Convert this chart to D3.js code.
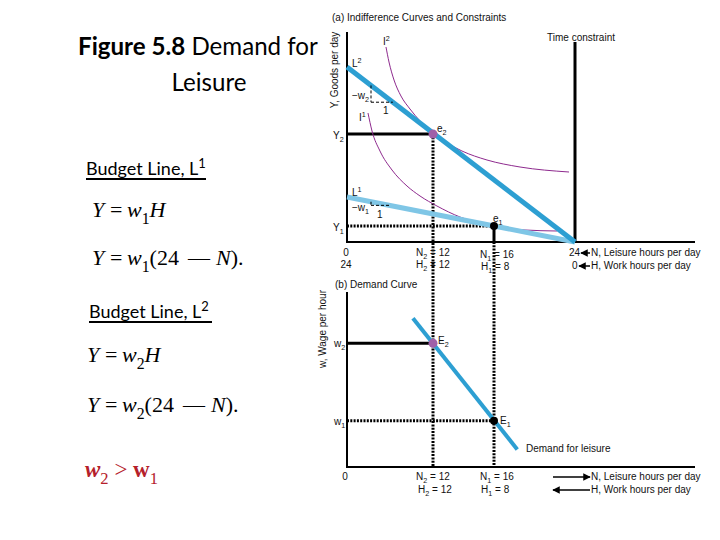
<!DOCTYPE html>
<html><head><meta charset="utf-8">
<script src="https://cdn.jsdelivr.net/npm/d3@7"></script>
<style>body{margin:0;background:#fff}svg{display:block}</style>
</head><body>
<script>
// ---------- data ----------
const leisureTicks = [0, 12, 16, 24];          // N, leisure hours
const workTicks = [24, 12, 8, 0];              // H, work hours
const budgetL2 = [[0, 175], [24, 0]];          // Y = w2(24-N)
const budgetL1 = [[0, 45], [24, 0]];           // Y = w1(24-N)
const timeConstraint = [[24, 0], [24, 200]];
const indiffI2 = [[5.44,195],[5.86,180],[6.56,162],[7.53,146],[8.79,133],[10.19,121],[12,108],[12.92,99],[13.9,91],[15.54,82],[18.57,75],[23.41,70]];
const indiffI1 = [[2.93,129],[3.49,111],[4.6,91],[6.28,72],[8.37,56],[10.19,46],[12.26,36],[13.77,25],[16,16],[19.06,12],[22.22,11]];
const goodsY = [108, 16];                       // Y2, Y1
const eqLeisure = [12, 16];                     // N2, N1
const wages = [9.9, 3.7];                       // w2, w1
const demandLeisure = [[9.2, 11.9], [12, 9.9], [16, 3.7], [18.3, 1.4]];
const slopeTriangleL2 = [3.35, 6.4];
const slopeTriangleL1 = [3.35, 5.9];

// ---------- setup ----------
const svg = d3.select('body').append('svg').attr('width', 720).attr('height', 540);
const SANS = '"Liberation Sans", Arial, sans-serif';
const SERIF = '"Liberation Serif", "Times New Roman", serif';
const x = d3.scaleLinear().domain(leisureTicks).range([347, 433, 494, 575]);
const yTop = d3.scaleLinear().domain([0, 210]).range([242, 32]);
const yBot = d3.scaleLinear().domain([0, 14]).range([467, 292]);
const BLUE = '#2d9fd2', LIGHTBLUE = '#7fc6e6', PURPLE = '#8e2a8e', DOT = '#a060a8';
const FS = 10;

const defs = svg.append('defs');
defs.append('marker').attr('id', 'ah').attr('viewBox', '0 0 10 10').attr('refX', 9).attr('refY', 5)
  .attr('markerWidth', 5).attr('markerHeight', 5).attr('orient', 'auto-start-reverse')
  .append('path').attr('d', 'M0,0L10,5L0,10z').attr('fill', '#000');

// rich text helper
function rich(x0, y0, parts, o = {}) {
  const size = o.size || FS;
  const t = svg.append('text').attr('x', x0).attr('y', y0)
    .attr('font-family', o.family || SANS).attr('font-size', size)
    .attr('fill', o.fill || '#111');
  if (o.anchor) t.attr('text-anchor', o.anchor);
  if (o.transform) t.attr('transform', o.transform);
  if (o.weight) t.attr('font-weight', o.weight);
  let cur = 0;
  parts.forEach(p => {
    if (typeof p === 'string') p = { t: p };
    let shift = 0, fs = size;
    if (p.sub) { shift = size * 0.3; fs = size * 0.72; }
    if (p.sup) { shift = -size * 0.4; fs = size * 0.72; }
    const s = t.append('tspan').text(p.t).attr('font-size', fs);
    if (shift - cur !== 0) s.attr('dy', shift - cur);
    cur = shift;
    if (p.x != null) s.attr('x', p.x);
    if (p.italic) s.attr('font-style', 'italic');
    if (p.bold) s.attr('font-weight', 'bold');
    if (p.family) s.attr('font-family', p.family);
  });
  return t;
}

// ---------- panel (a) ----------
const line = d3.line().x(d => x(d[0])).y(d => yTop(d[1]));
svg.append('line').attr('x1', x(0)).attr('x2', x(0)).attr('y1', yTop(210)).attr('y2', yTop(0)).attr('stroke', '#000').attr('stroke-width', 2);
svg.append('line').attr('x1', x(0) - 1).attr('x2', 695).attr('y1', yTop(0)).attr('y2', yTop(0)).attr('stroke', '#000').attr('stroke-width', 2);
svg.append('path').attr('d', line(timeConstraint)).attr('stroke', '#000').attr('stroke-width', 3).attr('fill', 'none');

const dotted = { stroke: '#000', 'stroke-width': 3, 'stroke-dasharray': '2,1.3' };
function seg(x1, y1, x2, y2, st) {
  const l = svg.append('line').attr('x1', x1).attr('y1', y1).attr('x2', x2).attr('y2', y2);
  Object.entries(st).forEach(([k, v]) => l.attr(k, v));
  return l;
}
seg(x(0), yTop(goodsY[0]), x(eqLeisure[0]), yTop(goodsY[0]), { stroke: '#000', 'stroke-width': 3 });
seg(x(eqLeisure[0]), yTop(goodsY[0]), x(eqLeisure[0]), yBot(0), dotted);
seg(x(0), yTop(goodsY[1]), x(eqLeisure[1]), yTop(goodsY[1]), dotted);
seg(x(eqLeisure[1]), yTop(goodsY[1]), x(eqLeisure[1]), yTop(0), { stroke: '#000', 'stroke-width': 3 });
seg(x(eqLeisure[1]), yTop(0), x(eqLeisure[1]), yBot(0), dotted);

const curve = d3.line().x(d => x(d[0])).y(d => yTop(d[1])).curve(d3.curveMonotoneX);
svg.append('path').attr('d', curve(indiffI2)).attr('fill', 'none').attr('stroke', PURPLE).attr('stroke-width', 1);
svg.append('path').attr('d', curve(indiffI1)).attr('fill', 'none').attr('stroke', PURPLE).attr('stroke-width', 1);

svg.append('path').attr('d', line(budgetL1)).attr('fill', 'none').attr('stroke', LIGHTBLUE).attr('stroke-width', 5);
svg.append('path').attr('d', line(budgetL2)).attr('fill', 'none').attr('stroke', BLUE).attr('stroke-width', 5);

function onLine(L, n) {
  const x0 = x(L[0][0]), y0 = yTop(L[0][1]), x1 = x(L[1][0]), y1 = yTop(L[1][1]);
  const px = x(n); return [px, y0 + (px - x0) / (x1 - x0) * (y1 - y0)];
}
function triangle(L, ns) {
  const a = onLine(L, ns[0]), b = onLine(L, ns[1]);
  const st = { stroke: '#000', 'stroke-width': 1, 'stroke-dasharray': '3,2' };
  seg(a[0], a[1], a[0], b[1], st);
  seg(a[0], b[1], b[0], b[1], st);
}
triangle(budgetL2, slopeTriangleL2);
triangle(budgetL1, slopeTriangleL1);

svg.append('circle').attr('cx', x(eqLeisure[0])).attr('cy', yTop(goodsY[0])).attr('r', 4.5).attr('fill', DOT);
svg.append('circle').attr('cx', x(eqLeisure[1])).attr('cy', yTop(goodsY[1])).attr('r', 4).attr('fill', '#000');

rich(332, 21, ['(a) Indifference Curves and Constraints']);
rich(547, 41, ['Time constraint']);
rich(338, 70, ['Y, Goods per day'], { anchor: 'middle', transform: 'rotate(-90,338,70)' });
rich(383, 45, ['I', { t: '2', sup: 1 }]);
rich(352, 67, ['L', { t: '2', sup: 1 }]);
rich(352, 99, ['\u2212w', { t: '2', sub: 1 }]);
rich(383, 114, ['1']);
rich(359, 121, ['I', { t: '1', sup: 1 }]);
rich(333, 139, ['Y', { t: '2', sub: 1 }]);
rich(437, 132, ['e', { t: '2', sub: 1 }]);
rich(352, 196, ['L', { t: '1', sup: 1 }]);
rich(352, 211, ['\u2212w', { t: '1', sub: 1 }]);
rich(377, 218, ['1']);
rich(493, 222, ['e', { t: '1', sub: 1 }]);
rich(333, 231, ['Y', { t: '1', sub: 1 }]);
rich(346, 256, [String(leisureTicks[0])], { anchor: 'middle' });
rich(346, 268, [String(workTicks[0])], { anchor: 'middle' });
rich(416, 256, ['N', { t: '2', sub: 1 }, { t: ' = ' + leisureTicks[1] }]);
rich(416, 268, ['H', { t: '2', sub: 1 }, { t: ' = ' + workTicks[1] }]);
rich(480, 258, ['N', { t: '1', sub: 1 }, { t: ' = ' + leisureTicks[2] }]);
rich(481, 270, ['H', { t: '1', sub: 1 }, { t: ' = ' + workTicks[2] }]);
rich(569, 256, [String(leisureTicks[3])]);
rich(572, 269, [String(workTicks[3])]);
seg(590, 253, 581, 253, { stroke: '#000', 'stroke-width': 1.5 }).attr('marker-end', 'url(#ah)');
seg(590, 266, 579, 266, { stroke: '#000', 'stroke-width': 1.5 }).attr('marker-end', 'url(#ah)');
rich(591, 256, ['N, Leisure hours per day']);
rich(591, 269, ['H, Work hours per day']);

// ---------- panel (b) ----------
svg.append('line').attr('x1', x(0)).attr('x2', x(0)).attr('y1', yBot(14)).attr('y2', yBot(0)).attr('stroke', '#000').attr('stroke-width', 2);
svg.append('line').attr('x1', x(0) - 1).attr('x2', 695).attr('y1', yBot(0)).attr('y2', yBot(0)).attr('stroke', '#000').attr('stroke-width', 2);
seg(x(0), yBot(wages[0]), x(eqLeisure[0]), yBot(wages[0]), { stroke: '#000', 'stroke-width': 3 });
seg(x(0), yBot(wages[1]), x(eqLeisure[1]), yBot(wages[1]), dotted);
const dline = d3.line().x(d => x(d[0])).y(d => yBot(d[1]));
svg.append('path').attr('d', dline([demandLeisure[0], demandLeisure[demandLeisure.length - 1]]))
  .attr('fill', 'none').attr('stroke', BLUE).attr('stroke-width', 4);
svg.append('circle').attr('cx', x(eqLeisure[0])).attr('cy', yBot(wages[0])).attr('r', 4.5).attr('fill', DOT);
svg.append('circle').attr('cx', x(eqLeisure[1])).attr('cy', yBot(wages[1])).attr('r', 4).attr('fill', '#000');

rich(335, 288, ['(b) Demand Curve']);
rich(326, 329, ['w, Wage per hour'], { anchor: 'middle', transform: 'rotate(-90,326,329)' });
rich(334, 347, ['w', { t: '2', sub: 1 }]);
rich(334, 425, ['w', { t: '1', sub: 1 }]);
rich(438, 344, ['E', { t: '2', sub: 1 }]);
rich(500, 424, ['E', { t: '1', sub: 1 }]);
rich(526, 452, ['Demand for leisure']);
rich(345, 480, [String(leisureTicks[0])], { anchor: 'middle' });
rich(416, 480, ['N', { t: '2', sub: 1 }, { t: ' = ' + leisureTicks[1] }]);
rich(418, 493, ['H', { t: '2', sub: 1 }, { t: ' = ' + workTicks[1] }]);
rich(480, 480, ['N', { t: '1', sub: 1 }, { t: ' = ' + leisureTicks[2] }]);
rich(481, 493, ['H', { t: '1', sub: 1 }, { t: ' = ' + workTicks[2] }]);
seg(553, 477, 590, 477, { stroke: '#000', 'stroke-width': 1.5 }).attr('marker-end', 'url(#ah)');
seg(590, 490, 553, 490, { stroke: '#000', 'stroke-width': 1.5 }).attr('marker-end', 'url(#ah)');
rich(591, 480, ['N, Leisure hours per day']);
rich(591, 493, ['H, Work hours per day']);

// ---------- left text ----------
const TFONT = 'Lato, "Open Sans", sans-serif';
const title1 = rich(78, 55, [{ t: 'Figure 5.8', bold: 1 }, ' Demand for'], { family: TFONT, size: 26, fill: '#000' });
const tw = title1.node().getComputedTextLength();
const tSize = 26 * 240 / tw;
title1.attr('font-size', tSize).selectAll('tspan').attr('font-size', tSize);
rich(209, 91, ['Leisure'], { family: TFONT, size: tSize, fill: '#000', anchor: 'middle' });
rich(86, 175, ['Budget Line, L', { t: '1', sup: 1 }], { family: TFONT, size: 18, fill: '#000' });
svg.append('rect').attr('x', 86).attr('y', 178).attr('width', 120).attr('height', 2).attr('fill', '#000');
rich(89, 318, ['Budget Line, L', { t: '2', sup: 1 }], { family: TFONT, size: 18, fill: '#000' });
svg.append('rect').attr('x', 89).attr('y', 321).attr('width', 123).attr('height', 2).attr('fill', '#000');

function eq(x0, y0, sub, tail) {
  const parts = [{ t: 'Y', italic: 1 }, { t: '=', x: x0 + 18 }, { t: 'w', italic: 1, x: x0 + 35 }, { t: sub, sub: 1 }];
  if (tail === 'H') parts.push({ t: 'H', italic: 1 });
  else parts.push({ t: '(24' }, { t: '\u2014', x: x0 + 96 }, { t: 'N', italic: 1, x: x0 + 124 }, { t: ').' });
  return rich(x0, y0, parts, { family: SERIF, size: 22, fill: '#000' });
}
eq(92, 217, '1', 'H');
eq(92, 265, '1', 'N');
eq(87, 362, '2', 'H');
eq(87, 412, '2', 'N');
rich(85, 477, [{ t: 'w', italic: 1, bold: 1 }, { t: '2', sub: 1 }, { t: ' > ' }, { t: 'w', bold: 1 }, { t: '1', sub: 1 }],
  { family: SERIF, size: 23, fill: '#b5202a' });
</script>
</body></html>
